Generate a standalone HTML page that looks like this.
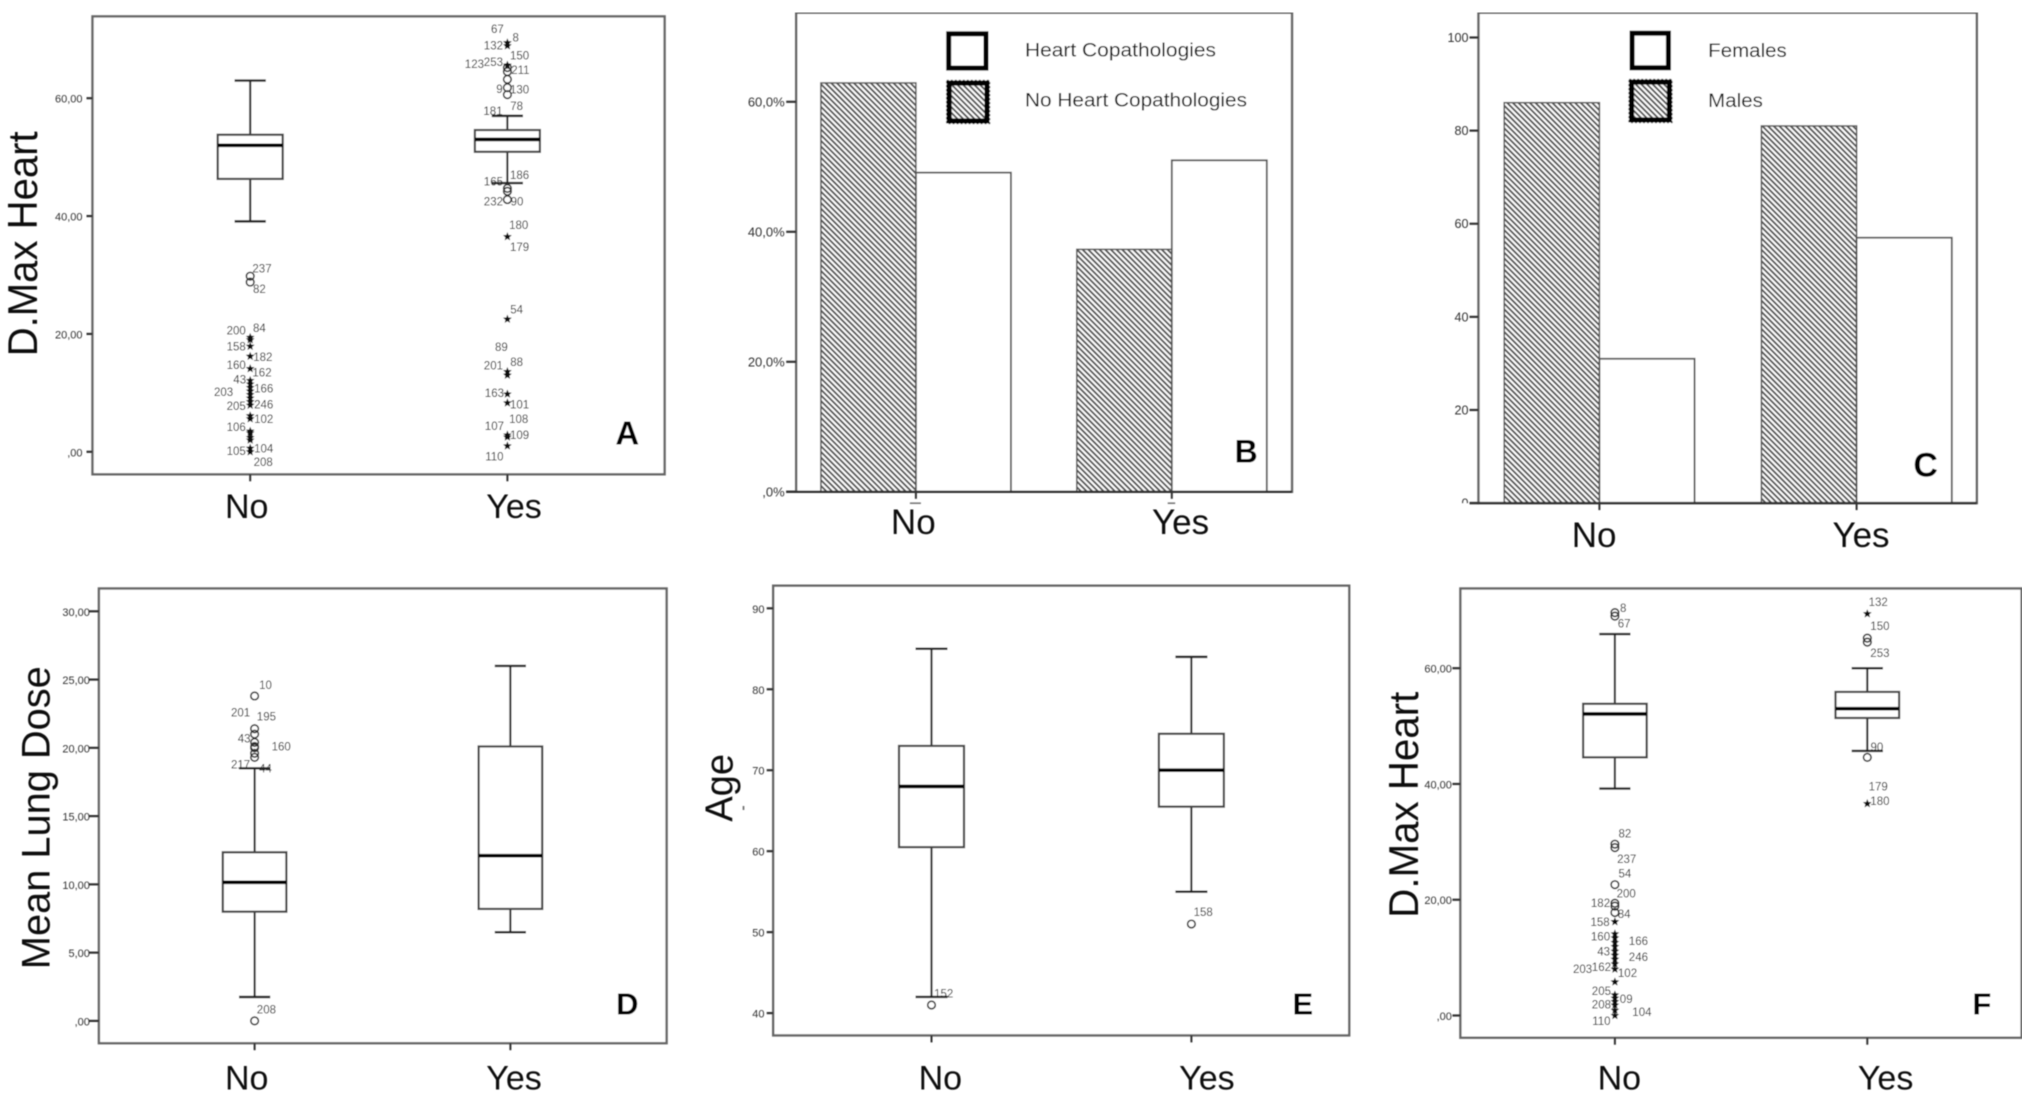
<!DOCTYPE html>
<html lang="en">
<head>
<meta charset="utf-8">
<title>Heart dose comparison panels</title>
<style>
html,body{margin:0;padding:0;background:#fff;width:2030px;height:1097px;overflow:hidden}
svg{display:block;font-family:"Liberation Sans",sans-serif}
</style>
</head>
<body>
<svg id="figure" xmlns="http://www.w3.org/2000/svg" width="2030" height="1097" viewBox="0 0 2030 1097">
  <defs>
    <pattern id="hatch" width="4" height="4" patternUnits="userSpaceOnUse" patternTransform="rotate(-45)">
      <rect width="4" height="4" fill="#fff"></rect>
      <rect width="2" height="4" fill="#555"></rect>
    </pattern>
    <filter id="soft" x="0" y="0" width="100%" height="100%">
      <feGaussianBlur stdDeviation="0.55"></feGaussianBlur>
    </filter>
  </defs>
  <g id="root" filter="url(#soft)"></g>
</svg>
<script>
/* ---------- shared ---------- */
const categories = ['No', 'Yes'];

/* ---------- panel A: D.Max Heart ---------- */
const aTicks = [0, 20, 40, 60];
const aTickLabels = [',00', '20,00', '40,00', '60,00'];
const aNoBox = [39.1, 46.3, 52, 53.8, 63];
const aYesBox = [45.6, 50.9, 53, 54.6, 57];
const aNoCircles = [29.8, 28.8];
const aNoStars = [19.4, 19, 17.9, 16.2, 14.1, 12.1, 11.5, 10.9, 10.3, 9.7, 9.1, 8.5, 7.9, 6.1, 5.6, 3.5, 3.2, 2.4, 2, 0.6, 0];
const aYesCircles = [65.2, 64.5, 63.2, 61.8, 60.6, 44.7, 44.2, 42.8];
const aYesStars = [69.4, 68.9, 65.6, 36.5, 22.5, 13.6, 13, 9.8, 8.3, 2.85, 2.5, 1];
const aNoLabels = ['237','82','84','200','158','182','160','162','43','166','203','205','246','102','106','105','104','208'];
const aNoLabelValues = [31.1,27.7,21,20.6,17.9,16.1,14.8,13.5,12.3,10.8,10.2,7.8,8.1,5.6,4.2,0.2,0.6,-1.7];
const aNoLabelNudge = [11.8,9.2,9.2,-14,-14,12.6,-14,11.8,-10.5,13.5,-26.6,-14,13.5,13.5,-14,-14,13.5,13];
const aYesLabels = ['67','8','132','150','253','123','211','9','130','78','181','186','165','232','90','180','179','54','89','88','201','163','101','108','107','109','110'];
const aYesLabelValues = [71.8,70.3,69,67.3,66.2,65.8,64.8,61.6,61.5,58.7,57.9,47,45.9,42.5,42.5,38.5,34.8,24.2,17.8,15.3,14.7,10,8.1,5.6,4.4,2.9,-0.8];
const aYesLabelNudge = [-10,8.3,-14,12.2,-14,-33,13,-8,12.2,9.2,-14.4,12.2,-14,-14,9.6,11.3,12.2,9.2,-6,9.2,-14,-13,12.2,11.3,-13,12.2,-13];

/* ---------- panel B: copathologies percentage ---------- */
const bTicks = [0, 20, 40, 60];
const bTickLabels = [',0%', '20,0%', '40,0%', '60,0%'];
const bHatched = [62.9, 37.3];
const bWhite = [49.1, 51.0];

/* ---------- panel C: sex counts ---------- */
const cTicks = [0, 20, 40, 60, 80, 100];
const cTickLabels = ['0', '20', '40', '60', '80', '100'];
const cHatched = [86, 81];
const cWhite = [31, 57];

/* ---------- panel D: Mean Lung Dose ---------- */
const dTicks = [0, 5, 10, 15, 20, 25, 30];
const dTickLabels = [',00', '5,00', '10,00', '15,00', '20,00', '25,00', '30,00'];
const dNoBox = [1.75, 8, 10.15, 12.35, 18.5];
const dYesBox = [6.5, 8.2, 12.1, 20.1, 26];
const dNoCircles = [23.8, 21.4, 21, 20.4, 20.1, 20, 19.6, 19.3, 0];
const dNoLabels = ['10','201','195','43','160','217','44','208'];
const dNoLabelValues = [24.6,22.6,22.3,20.7,20.1,18.8,18.5,0.85];
const dNoLabelNudge = [10.9,-14,11.8,-10.5,26.6,-14,10.9,11.8];

/* ---------- panel E: Age ---------- */
const eTicks = [40, 50, 60, 70, 80, 90];
const eTickLabels = ['40', '50', '60', '70', '80', '90'];
const eNoBox = [42, 60.5, 68, 73, 85];
const eYesBox = [55, 65.5, 70, 74.5, 84];
const eNoCircles = [41];
const eYesCircles = [51];
const eNoLabels = ['152'];
const eNoLabelValues = [42.45];
const eNoLabelNudge = [12.2];
const eYesLabels = ['158'];
const eYesLabelValues = [52.5];
const eYesLabelNudge = [11.8];

/* ---------- panel F: D.Max Heart ---------- */
const fTicks = [0, 20, 40, 60];
const fTickLabels = [',00', '20,00', '40,00', '60,00'];
const fNoBox = [39.2, 44.6, 52.1, 53.85, 65.9];
const fYesBox = [45.7, 51.4, 53, 55.9, 60];
const fNoCircles = [69.6, 69, 29.6, 29, 22.6, 19.4, 18.9, 17.8];
const fNoStars = [16.2, 14.1, 13.4, 12.6, 11.9, 11.1, 10.4, 9.7, 8.9, 8, 5.8, 3.55, 3, 2.4, 1.8, 0.9, 0];
const fYesCircles = [65.2, 64.5, 44.6];
const fYesStars = [69.4, 36.6];
const fNoLabels = ['8','67','82','237','54','200','182','84','158','160','166','43','246','203','162','102','205','09','208','104','110'];
const fNoLabelValues = [70.4,67.8,31.5,27.1,24.6,21.1,19.5,17.6,16.2,13.7,12.9,11.1,10.1,8.1,8.4,7.4,4.3,2.9,1.9,0.6,-0.9];
const fNoLabelNudge = [8.3,9.2,10,11.8,10,11.3,-14.4,9.2,-14.8,-14.4,23.5,-11.3,23.5,-32.3,-13.5,12.6,-13.5,11.3,-13.5,27,-13.5];
const fYesLabels = ['132','150','253','90','179','180'];
const fYesLabelValues = [71.5,67.3,62.7,46.4,39.6,37.1];
const fYesLabelNudge = [10.9,12.6,12.6,9.6,10.9,12.6];

/* ---------- drawing helpers ---------- */
const NS = 'http://www.w3.org/2000/svg';
const root = document.getElementById('root');

function mk(parent, tag, attrs, name) {
  const el = document.createElementNS(NS, tag);
  for (const k in attrs) el.setAttribute(k, attrs[k]);
  
  
  parent.appendChild(el);
  return el;
}
function txt(parent, str, attrs, name) {
  const el = mk(parent, 'text', attrs, name);
  el.textContent = str;
  return el;
}
function line(parent, x1, y1, x2, y2, stroke, w, name) {
  return mk(parent, 'line', {x1, y1, x2, y2, stroke, 'stroke-width': w}, name);
}
function linear(d0, d1, p0, p1) {
  return v => p0 + (v - d0) * (p1 - p0) / (d1 - d0);
}
function starPath(cx, cy, r) {
  let d = '';
  for (let i = 0; i < 10; i++) {
    const a = -Math.PI / 2 + i * Math.PI / 5;
    const q = i % 2 ? r * 0.45 : r;
    d += (i ? 'L' : 'M') + (cx + q * Math.cos(a)).toFixed(2) + ' ' + (cy + q * Math.sin(a)).toFixed(2);
  }
  return d + 'Z';
}

function drawFrame(g, L, yScale, ticks, tickLabels, xOf, key) {
  mk(g, 'rect', {x: L.l, y: L.t, width: L.r - L.l, height: L.b - L.t, fill: '#fff', stroke: '#666', 'stroke-width': 2.4}, key + '-plot-frame');
  ticks.forEach((t, i) => {
    const y = yScale(t);
    line(g, L.l - L.tickLen, y, L.l, y, '#333', 2.2, key + '-y-tick');
    const lab = txt(g, tickLabels[i], {x: L.l - L.labelGap, y: y + 4.5, 'text-anchor': 'end', 'font-size': L.tickFont, fill: '#333'}, key + '-y-tick-label');
    if (L.clipZero && t === 0) lab.setAttribute('clip-path', 'url(#' + key + '-zero-clip)');
  });
  categories.forEach((c, i) => {
    line(g, xOf(i), L.b, xOf(i), L.b + 7, '#333', 2, key + '-x-tick-' + c.toLowerCase());
  });
}
function drawCategoryLabels(g, L, key) {
  categories.forEach((c, i) => {
    txt(g, c, {x: L.catLabelX[i], y: L.catLabelY, 'text-anchor': 'middle', 'font-size': L.catFont, fill: '#111'}, key + '-x-label-' + c.toLowerCase());
  });
}
function drawTitle(g, text, x, y, len, size, key) {
  txt(g, text, {x: 0, y: 0, transform: 'translate(' + x + ' ' + y + ') rotate(-90)', 'text-anchor': 'middle', 'font-size': size, fill: '#111', textLength: len, lengthAdjust: 'spacingAndGlyphs'}, key + '-y-axis-title');
}
function drawLetter(g, text, x, y, size, key) {
  txt(g, text, {x, y, 'text-anchor': 'middle', 'font-size': size, 'font-weight': 'bold', fill: '#000'}, key + '-panel-letter');
}
function drawBox(g, box, x, yScale, L, name) {
  const [lo, q1, med, q3, hi] = box;
  line(g, x, yScale(hi), x, yScale(q3), '#333', 2.2, name + '-upper-whisker');
  line(g, x, yScale(q1), x, yScale(lo), '#333', 2.2, name + '-lower-whisker');
  line(g, x - L.capHalf, yScale(hi), x + L.capHalf, yScale(hi), '#222', 2.4, name + '-upper-cap');
  line(g, x - L.capHalf, yScale(lo), x + L.capHalf, yScale(lo), '#222', 2.4, name + '-lower-cap');
  mk(g, 'rect', {x: x - L.boxHalf, y: yScale(q3), width: 2 * L.boxHalf, height: yScale(q1) - yScale(q3), fill: '#fff', stroke: '#444', 'stroke-width': 2.2}, name + '-box');
  line(g, x - L.boxHalf, yScale(med), x + L.boxHalf, yScale(med), '#000', 3.6, name + '-median');
}
function drawOutliers(g, circles, stars, x, yScale, name) {
  circles.forEach(v => {
    mk(g, 'circle', {cx: x, cy: yScale(v), r: 3.8, fill: 'none', stroke: '#333', 'stroke-width': 1.6}, name + '-outlier');
  });
  stars.forEach(v => {
    mk(g, 'path', {d: starPath(x, yScale(v), 4.6), fill: '#111'}, name + '-extreme-outlier');
  });
}
function drawLabels(g, labels, values, nudges, x, yScale, name) {
  labels.forEach((t, i) => {
    txt(g, t, {x: x + nudges[i], y: yScale(values[i]) + 4.2, 'text-anchor': 'middle', 'font-size': 11.5, fill: '#222'}, name + '-case-label');
  });
}
function drawBoxPanel(key, L, ticks, tickLabels, series) {
  const g = mk(root, 'g', {}, 'panel-' + key);
  const yScale = linear(L.d0, L.d1, L.p0, L.p1);
  const xOf = linear(0, 1, L.catX0, L.catX1);
  drawFrame(g, L, yScale, ticks, tickLabels, xOf, key);
  series.forEach((s, i) => {
    const name = key + '-' + categories[i].toLowerCase();
    const x = xOf(i);
    drawBox(g, s.box, x, yScale, L, name);
    drawOutliers(g, s.circles || [], s.stars || [], x, yScale, name);
    drawLabels(g, s.labels || [], s.labelValues || [], s.labelNudge || [], x, yScale, name);
  });
  drawCategoryLabels(g, L, key);
  return g;
}
function drawBarPanel(key, L, ticks, tickLabels, hatched, white, legendLabels) {
  const g = mk(root, 'g', {}, 'panel-' + key);
  const yScale = linear(L.d0, L.d1, L.p0, L.p1);
  const xOf = linear(0, 1, L.catX0, L.catX1);
  drawFrame(g, L, yScale, ticks, tickLabels, xOf, key);
  categories.forEach((c, i) => {
    const x = xOf(i);
    mk(g, 'rect', {x: x - L.barW, y: yScale(hatched[i]), width: L.barW, height: L.b - yScale(hatched[i]), fill: 'url(#hatch)', stroke: '#555', 'stroke-width': 1.5}, key + '-bar-hatched-' + c.toLowerCase());
    mk(g, 'rect', {x: x, y: yScale(white[i]), width: L.barW, height: L.b - yScale(white[i]), fill: '#fff', stroke: '#555', 'stroke-width': 1.8}, key + '-bar-white-' + c.toLowerCase());
  });
  line(g, L.l - L.tickLen, L.b, L.r, L.b, '#333', 2.4, key + '-x-axis-line');
  // legend
  const Lg = L.legend;
  mk(g, 'rect', {x: Lg.wx, y: Lg.wy, width: Lg.ww, height: Lg.wh, fill: '#fff', stroke: '#000', 'stroke-width': 5}, key + '-legend-swatch-white');
  mk(g, 'rect', {x: Lg.hx, y: Lg.hy, width: Lg.hw, height: Lg.hh, fill: 'url(#hatch)', stroke: '#000', 'stroke-width': 5}, key + '-legend-swatch-hatched');
  mk(g, 'rect', {x: Lg.hx - 2.4, y: Lg.hy - 2.4, width: Lg.hw + 4.8, height: Lg.hh + 4.8, fill: 'none', stroke: '#000', 'stroke-width': 1.6, 'stroke-dasharray': '2 2'}, key + '-legend-swatch-dotted-edge');
  txt(g, legendLabels[0], {x: Lg.tx, y: Lg.ty0, 'font-size': Lg.font, fill: '#111', textLength: Lg.len0, lengthAdjust: 'spacingAndGlyphs'}, key + '-legend-label-white');
  txt(g, legendLabels[1], {x: Lg.tx, y: Lg.ty1, 'font-size': Lg.font, fill: '#111', textLength: Lg.len1, lengthAdjust: 'spacingAndGlyphs'}, key + '-legend-label-hatched');
  drawCategoryLabels(g, L, key);
  return g;
}

/* ---------- clip for the cut-off zero label in panel C ---------- */
const defs = document.querySelector('defs');
const clipC = mk(defs, 'clipPath', {id: 'C-zero-clip'}, 'c-zero-label-clip');
mk(clipC, 'rect', {x: 1440, y: 490, width: 40, height: 13.1}, 'c-zero-label-clip-area');

/* ---------- panels ---------- */
const gA = drawBoxPanel('A', {l: 92.5, r: 664.6, t: 16.4, b: 474.3, d0: 0, d1: 60, p0: 451.8, p1: 98.2, catX0: 250.2, catX1: 507.4, tickLen: 6, labelGap: 10, tickFont: 11, boxHalf: 32.5, capHalf: 15.6, catLabelX: [246.7, 514], catLabelY: 517.8, catFont: 34}, aTicks, aTickLabels, [
  {box: aNoBox, circles: aNoCircles, stars: aNoStars, labels: aNoLabels, labelValues: aNoLabelValues, labelNudge: aNoLabelNudge},
  {box: aYesBox, circles: aYesCircles, stars: aYesStars, labels: aYesLabels, labelValues: aYesLabelValues, labelNudge: aYesLabelNudge}
]);
drawTitle(gA, 'D.Max Heart', 36.8, 243.8, 225, 42, 'A');
drawLetter(gA, 'A', 627.3, 444.7, 33, 'A');

const gB = drawBarPanel('B', {l: 796.2, r: 1292, t: 12.8, b: 491.8, d0: 0, d1: 60, p0: 491.8, p1: 101.8, catX0: 915.9, catX1: 1171.8, tickLen: 10, labelGap: 11.5, tickFont: 13, barW: 95, catLabelX: [913.3, 1180.6], catLabelY: 533.9, catFont: 35,
  legend: {wx: 948.7, wy: 33.8, ww: 37.3, wh: 34.3, hx: 949.2, hy: 83.1, hw: 37.8, hh: 37.8, tx: 1025, ty0: 56.7, ty1: 106.5, font: 19, len0: 191, len1: 222}
}, bTicks, bTickLabels, bHatched, bWhite, ['Heart Copathologies', 'No Heart Copathologies']);
drawLetter(gB, 'B', 1246.2, 462.4, 32, 'B');
mk(gB, 'rect', {x: 909.9, y: 502.4, width: 11, height: 1.6, fill: '#777'}, 'B-clipped-tick-text-no');
mk(gB, 'rect', {x: 1167.7, y: 502.4, width: 7.5, height: 1.6, fill: '#777'}, 'B-clipped-tick-text-yes');

const gC = drawBarPanel('C', {l: 1478.5, r: 1976.8, t: 12.8, b: 503.1, d0: 0, d1: 100, p0: 503.1, p1: 37.5, catX0: 1599.4, catX1: 1856.6, tickLen: 9, labelGap: 10, tickFont: 12.6, barW: 95.2, clipZero: true, catLabelX: [1594.1, 1861], catLabelY: 547.2, catFont: 35,
  legend: {wx: 1632.1, wy: 33.2, ww: 36.3, wh: 34.6, hx: 1631.6, hy: 82.1, hw: 37.8, hh: 37.8, tx: 1708.2, ty0: 57.1, ty1: 107.2, font: 19, len0: 78.6, len1: 54.7}
}, cTicks, cTickLabels, cHatched, cWhite, ['Females', 'Males']);
drawLetter(gC, 'C', 1925.7, 476.6, 34, 'C');

const gD = drawBoxPanel('D', {l: 98.9, r: 666.6, t: 588.5, b: 1043.2, d0: 0, d1: 30, p0: 1020.9, p1: 611.3, catX0: 254.6, catX1: 510.4, tickLen: 10, labelGap: 9, tickFont: 11, boxHalf: 31.8, capHalf: 15.6, catLabelX: [246.7, 514], catLabelY: 1089.5, catFont: 34}, dTicks, dTickLabels, [
  {box: dNoBox, circles: dNoCircles, labels: dNoLabels, labelValues: dNoLabelValues, labelNudge: dNoLabelNudge},
  {box: dYesBox}
]);
drawTitle(gD, 'Mean Lung Dose', 49.7, 817.7, 303, 40, 'D');
drawLetter(gD, 'D', 627.3, 1014.7, 31, 'D');

const gE = drawBoxPanel('E', {l: 773.2, r: 1349.2, t: 585.7, b: 1035.4, d0: 40, d1: 90, p0: 1013.1, p1: 608.3, catX0: 931.5, catX1: 1191.4, tickLen: 6.5, labelGap: 8.7, tickFont: 11, boxHalf: 32.5, capHalf: 16, catLabelX: [940.3, 1206.9], catLabelY: 1089.5, catFont: 34}, eTicks, eTickLabels, [
  {box: eNoBox, circles: eNoCircles, labels: eNoLabels, labelValues: eNoLabelValues, labelNudge: eNoLabelNudge},
  {box: eYesBox, circles: eYesCircles, labels: eYesLabels, labelValues: eYesLabelValues, labelNudge: eYesLabelNudge}
]);
drawTitle(gE, 'Age', 732.7, 787.8, 68, 39, 'E');
mk(gE, 'rect', {x: 742.7, y: 806, width: 1.6, height: 4, fill: '#666'}, 'E-title-stray-mark');
drawLetter(gE, 'E', 1302.9, 1014.7, 31, 'E');

const gF = drawBoxPanel('F', {l: 1460.4, r: 2021.6, t: 588.5, b: 1037.7, d0: 0, d1: 60, p0: 1015.5, p1: 668.2, catX0: 1614.9, catX1: 1867.3, tickLen: 8, labelGap: 8.5, tickFont: 11, boxHalf: 31.8, capHalf: 15.6, catLabelX: [1619.3, 1885.6], catLabelY: 1089.5, catFont: 34}, fTicks, fTickLabels, [
  {box: fNoBox, circles: fNoCircles, stars: fNoStars, labels: fNoLabels, labelValues: fNoLabelValues, labelNudge: fNoLabelNudge},
  {box: fYesBox, circles: fYesCircles, stars: fYesStars, labels: fYesLabels, labelValues: fYesLabelValues, labelNudge: fYesLabelNudge}
]);
drawTitle(gF, 'D.Max Heart', 1418, 804.7, 226, 42, 'F');
drawLetter(gF, 'F', 1981.8, 1014.7, 31, 'F');
</script>
</body>
</html>
